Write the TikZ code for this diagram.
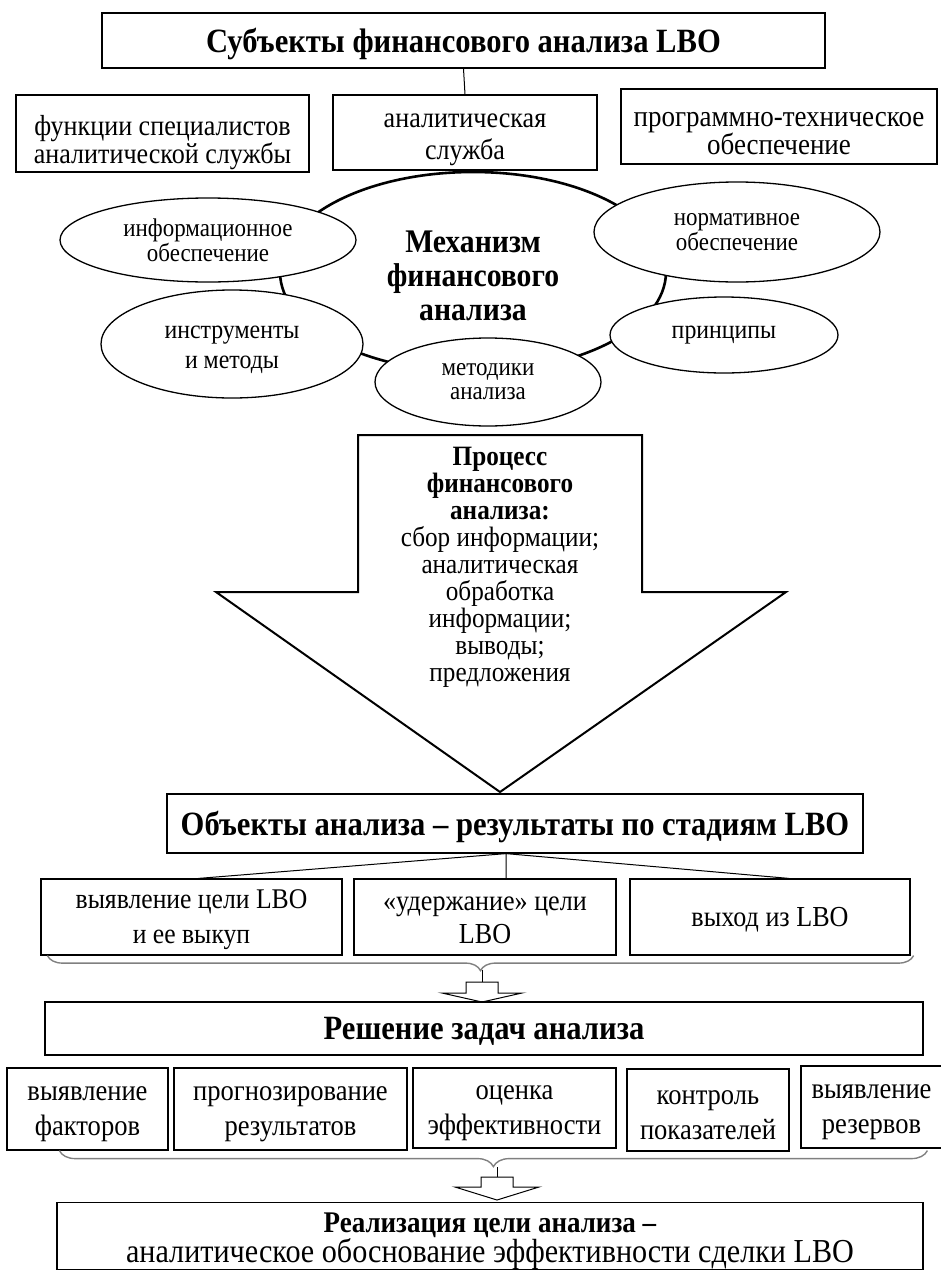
\documentclass[tikz,border=0pt]{standalone}
\usepackage{fontspec}
\setmainfont{Liberation Serif}[FakeStretch=0.9]
\usetikzlibrary{positioning, shapes.geometric, decorations.pathreplacing}
\newcommand{\sunk}[1]{\rule{0pt}{#1}} % taller first line, so the text sits lower in its box
\tikzset{
x=1pt, y=-1pt, % one unit is one pixel of the scheme, y runs downwards
box/.style={draw, line width=1.2pt, align=center, inner sep=0pt, font=\fontsize{29}{32}\selectfont}, % plain rectangle
head/.style={box, text depth=-4pt, font=\bfseries\fontsize{34}{36}\selectfont}, % bold title box
cell/.style={box, minimum height=82pt, font=\fontsize{29.5}{35}\selectfont}, % box of the lower rows
part/.style={ellipse, draw, fill=white, line width=1.3pt, align=center, inner sep=0pt, font=\fontsize{25.5}{23}\selectfont}, % ellipse on the ring
link/.style={line width=1pt}, % plain connector
bracket/.style={decorate, decoration={brace, mirror, amplitude=#1}, draw=gray, line width=1.4pt}, % curly brace under a row
bracket/.default=15pt,
hollow/.style={draw, line width=1pt, fill=white}, % small block arrow
}

\begin{document}
\begin{tikzpicture}
            \useasboundingbox (0,0) rectangle (940,1272);

            % subjects
            \node[head, minimum width=723pt, minimum height=55pt] (subj) at (463.5,40.5) {Субъекты финансового анализа LBO};
            \node[box, minimum width=264pt, minimum height=75pt, font=\fontsize{29}{32}\selectfont] (serv) at (465,132.5) {\sunk{29pt}аналитическая\\служба};
            \node[box, left of=serv, node distance=302.5pt, yshift=-1pt, minimum width=293pt, minimum height=77pt, font=\fontsize{29}{26}\selectfont] (func) {\sunk{38pt}функции специалистов\\аналитической службы};
            \node[box, right of=serv, node distance=314pt, yshift=6pt, minimum width=316pt, minimum height=75pt, font=\fontsize{30}{28}\selectfont] (soft) {\sunk{28pt}программно-техническое\\обеспечение};
            \draw[link] (subj.south) -- (serv.north);

            % mechanism and its parts
            \node[ellipse, draw, line width=2.6pt, minimum width=386pt, minimum height=200pt, align=center, font=\bfseries\fontsize{33}{34}\selectfont] (mech) at (473,272) {\sunk{30pt}Механизм\\финансового\\анализа};
            \node[part, minimum width=296pt, minimum height=84pt] (info) at (208,240) {информационное\\обеспечение};
            \node[part, minimum width=286pt, minimum height=100pt] (norm) at (737,232) {нормативное\\обеспечение};
            \node[part, minimum width=262pt, minimum height=108pt, font=\fontsize{26.5}{30}\selectfont] (tool) at (232,344) {\sunk{24pt}инструменты\\и методы};
            \node[part, minimum width=228pt, minimum height=76pt, font=\fontsize{26.5}{30}\selectfont] (prin) at (724,335) {принципы};
            \node[part, minimum width=226pt, minimum height=88pt, font=\fontsize{25.5}{24}\selectfont] (meth) at (488,382) {методики\\анализа};

            % process arrow
            \draw[line width=2pt, fill=white] (358,435) -- (642,435) -- (642,592) -- (786,592) -- (500,792) -- (216,592) -- (358,592) -- cycle;
            \node[align=center, font=\fontsize{28}{27}\selectfont] (proc) at (500,567) {\textbf{Процесс}\\\textbf{финансового}\\\textbf{анализа:}\\сбор информации;\\аналитическая\\обработка\\информации;\\выводы;\\предложения};

            % objects
            \node[head, minimum width=696pt, minimum height=59pt] (obj) at (515,823.5) {Объекты анализа – результаты по стадиям LBO};
            \node[box, minimum width=262pt, minimum height=76pt, font=\fontsize{29}{33}\selectfont] (hold) at (485,917) {\sunk{20pt}«удержание» цели\\LBO};
            \node[box, left of=hold, node distance=293.5pt, minimum width=301pt, minimum height=76pt, font=\fontsize{28.5}{35}\selectfont] (find) {\sunk{25pt}выявление цели LBO\\и ее выкуп};
            \node[box, right of=hold, node distance=285pt, minimum width=280pt, minimum height=76pt, text depth=-2pt] (exit) {выход из LBO};

            \coordinate (fork) at ([xshift=-9pt]obj.south);
            \draw[link] (fork) -- ([xshift=7pt]find.north)
                        (fork) -- (fork |- hold.north)
                        (fork) -- ([xshift=19pt]exit.north);

            \draw[bracket=15pt] ([xshift=7pt]find.south west) -- ([xshift=3pt]exit.south east);
            \coordinate (k1) at (482,970);
            \draw[link] (k1) -- ++(0,12);
            \draw[hollow] (k1) ++(-16,12) -- ++(32,0) -- ++(0,11) -- ++(24,0) -- ++(-40,9) -- ++(-40,-9) -- ++(24,0) -- cycle;

            % tasks
            \node[head, minimum width=878pt, minimum height=53pt] (task) at (484,1028.5) {Решение задач анализа};
            \node[cell, minimum width=203pt, minimum height=80pt] (eval) at (514.5,1108) {\sunk{25pt}оценка\\эффективности};
            \node[cell, left of=eval, node distance=224pt, yshift=-1pt, minimum width=233pt] (pred) {\sunk{25pt}прогнозирование\\результатов};
            \node[cell, left of=pred, node distance=203pt, minimum width=161pt] (fact) {\sunk{25pt}выявление\\факторов};
            \node[cell, right of=eval, node distance=193.5pt, yshift=-2pt, minimum width=162pt] (ctrl) {\sunk{25pt}контроль\\показателей};
            \node[cell, right of=ctrl, node distance=163.5pt, yshift=3pt, minimum width=141pt] (resv) {\sunk{25pt}выявление\\резервов};

            \draw[bracket=16pt] ([xshift=53pt]fact.south west) -- ([xshift=921pt]fact.south west);
            \coordinate (k2) at (497,1167);
            \draw[link] (k2) -- ++(0,10);
            \draw[hollow] (k2) ++(-16,10) -- ++(32,0) -- ++(0,10) -- ++(26,0) -- ++(-42,13) -- ++(-42,-13) -- ++(26,0) -- cycle;

            % goal
            \node[box, minimum width=866pt, minimum height=67pt, font=\fontsize{33.5}{28}\selectfont] (goal) at (490,1236) {\sunk{30pt}\textbf{\fontsize{30}{28}\selectfont Реализация цели анализа –}\\аналитическое обоснование эффективности сделки LBO};
\end{tikzpicture}
\end{document}
